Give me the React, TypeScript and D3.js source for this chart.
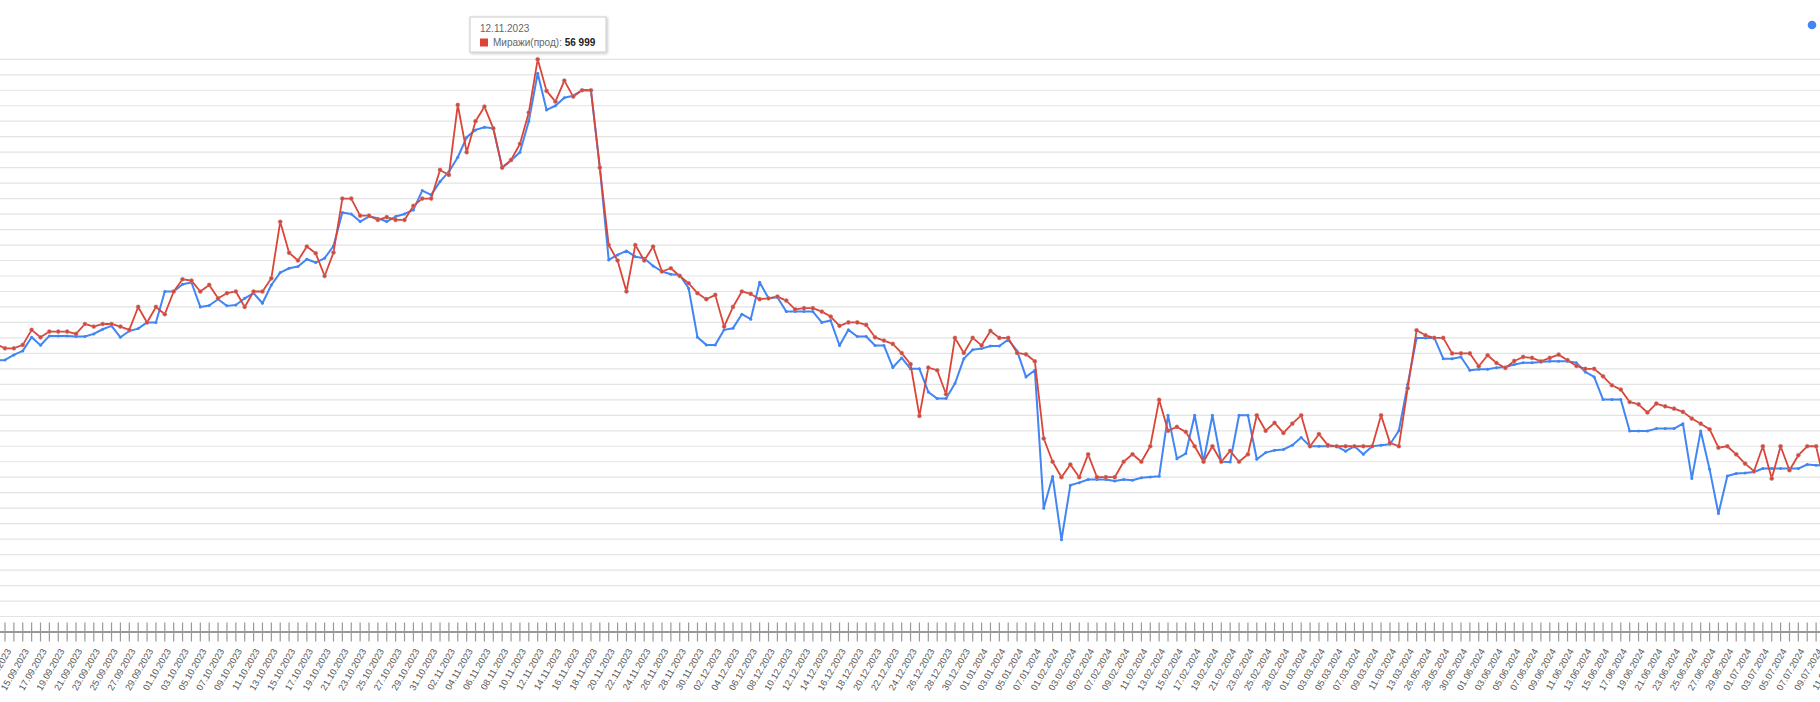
import React from "react";
import * as d3 from "d3";

// Category ranges (daily, with gaps in the data)
const dateRanges: [string, string][] = [
  ["12.09.2023", "08.01.2024"],
  ["01.02.2024", "25.02.2024"],
  ["27.02.2024", "13.03.2024"],
  ["25.05.2024", "11.07.2024"],
];

const redSeriesName = "Миражи(прод)";
const blueSeriesName = "Миражи(тест)";

// Миражи(прод) — red
const redValues: number[] = [
  38600,
  38330, 38330, 38550, 39520, 39040, 39410, 39410, 39410, 39260, 39900,
  39730, 39900, 39900, 39730, 39520, 41000, 40000, 41000, 40530, 42000,
  42790, 42700, 42000, 42420, 41560, 41890, 42000, 41000, 42000, 42000,
  42850, 46500, 44500, 44000, 44900, 44470, 43000, 44510, 48000, 48000,
  46900, 46900, 46620, 46800, 46620, 46620, 47530, 48000, 48000, 49850,
  49530, 54050, 51000, 53000, 53940, 52540, 50000, 50500, 51530, 53560,
  56999, 54960, 54270, 55620, 54590, 55000, 55000, 50000, 45000, 44000,
  42000, 45000, 44000, 44900, 43290, 43500, 43000, 42530, 41890, 41500,
  41780, 39730, 41000, 42000, 41840, 41500, 41560, 41670, 41410, 40850,
  40920, 40920, 40700, 40380, 39780, 40000, 40000, 39840, 39040, 38830,
  38610, 38020, 37300, 33960, 37080, 36910, 35360, 39000, 38030, 39000,
  38520, 39450, 39000, 39000, 38030, 37940, 37490, 32500, 31000, 30000,
  30820, 30000, 31480, 30000, 30000, 30000, 31000, 31480, 31000, 32000,
  35000, 33000, 33250, 32930, 32000, 31000, 32000, 31000, 31700, 31000,
  31480, 34000, 33000, 33510, 32860, 33460, 34000, 32000, 32780, 32070,
  32000, 32000, 32000, 32000, 32000, 34000, 32220, 32000, 35750, 39490,
  39170, 39000, 39000, 38000, 38000, 38000, 37170, 37880, 37380, 37060,
  37510, 37770, 37710, 37490, 37710, 37920, 37560, 37190, 37000, 37000,
  36520, 35940, 35660, 34860, 34710, 34180, 34760, 34580, 34430, 34220,
  33790, 33460, 33100, 31910, 32000, 31480, 30880, 30390, 32000, 29910,
  32000, 30450, 31420, 32000, 32000, 29480, 30000,
];

// second series — blue
const blueValues: number[] = [
  37540,
  37580, 37900, 38160, 39040, 38530, 39130, 39130, 39130, 39090, 39090,
  39260, 39560, 39780, 39040, 39450, 39600, 40000, 40000, 42000, 42000,
  42470, 42580, 41000, 41090, 41500, 41070, 41130, 41560, 41890, 41240,
  42420, 43220, 43500, 43610, 44080, 43870, 44150, 44940, 47100, 47010,
  46520, 46840, 46730, 46520, 46840, 47010, 47270, 48520, 48240, 49100,
  49740, 50670, 51960, 52440, 52610, 52540, 50000, 50460, 51000, 53000,
  56100, 53730, 54000, 54520, 54650, 55000, 55000, 50000, 44040, 44360,
  44620, 44250, 44150, 43650, 43290, 43110, 43070, 42210, 39040, 38550,
  38550, 39520, 39630, 40530, 40210, 42600, 41560, 41630, 40700, 40700,
  40700, 40700, 40000, 40120, 38510, 39520, 39090, 39090, 38510, 38510,
  37090, 37710, 37000, 37000, 35510, 35080, 35080, 36050, 37660, 38240,
  38310, 38480, 38480, 38890, 38160, 36480, 36910, 28000, 30040, 25960,
  29480, 29650, 29850, 29850, 29850, 29760, 29850, 29800, 29960, 30020,
  30060, 34000, 31200, 31530, 34000, 31000, 34000, 31000, 30980, 34000,
  34000, 31160, 31590, 31740, 31790, 32070, 32560, 32000, 32000, 32000,
  32000, 31680, 32000, 31480, 32000, 32070, 32130, 33000, 36000, 39000,
  39000, 39000, 37660, 37660, 37770, 36910, 36970, 36970, 37080, 37120,
  37280, 37400, 37400, 37450, 37490, 37490, 37490, 37400, 36800, 36480,
  35020, 35020, 35020, 32990, 32990, 32990, 33140, 33140, 33140, 33460,
  29910, 32990, 30520, 27650, 30080, 30240, 30280, 30340, 30560, 30560,
  30560, 30560, 30560, 30820, 30770, 30770, 30770,
];

const gridValues: number[] = d3.range(21000, 57001, 1000);
const tooltipDate = "12.11.2023";
const tooltipValue = "56 999";

function parseDate(s: string): Date {
  const [d, m, y] = s.split(".").map(Number);
  return new Date(Date.UTC(y, m - 1, d));
}
function fmtDate(dt: Date): string {
  const dd = String(dt.getUTCDate()).padStart(2, "0");
  const mm = String(dt.getUTCMonth() + 1).padStart(2, "0");
  return `${dd}.${mm}.${dt.getUTCFullYear()}`;
}
const categories: string[] = dateRanges.flatMap(([a, b]) => {
  const out: string[] = [];
  const end = parseDate(b).getTime();
  for (let t = parseDate(a).getTime(); t <= end; t += 86400000) out.push(fmtDate(new Date(t)));
  return out;
});

const W = 1820;
const H = 702;
const STEP = 8.878;
const X0 = 5 - STEP;
const BASE_Y = 632;
const TOP_Y = 59.3;

const FONT = "Arial, 'Liberation Sans', sans-serif";

export default function App() {
  const x = d3
    .scalePoint<string>()
    .domain(categories)
    .range([X0, X0 + STEP * (categories.length - 1)]);
  const y = d3.scaleLinear().domain([20000, 57000]).range([BASE_Y, TOP_Y]);

  const redData = categories.map((c, i) => ({ c, v: redValues[i] }));
  const blueData = categories.map((c, i) => ({ c, v: blueValues[i] }));
  const line = d3
    .line<{ c: string; v: number }>()
    .x((d) => x(d.c)!)
    .y((d) => y(d.v));

  return (
    <div style={{ position: "absolute", left: 0, top: 0 }}>
      <style>{`body{margin:0}`}</style>
      <svg width={W} height={H} style={{ display: "block", background: "#fff" }}>
        <defs>
          <filter id="tipShadow" x="-10%" y="-20%" width="120%" height="150%">
            <feDropShadow dx="1" dy="1" stdDeviation="1.5" floodColor="#000" floodOpacity="0.25" />
          </filter>
        </defs>

        {/* gridlines */}
        {gridValues.map((v) => (
          <line key={v} x1={0} x2={W} y1={y(v)} y2={y(v)} stroke="#e3e3e3" strokeWidth={1.2} />
        ))}

        {/* baseline */}
        <line x1={0} x2={W} y1={BASE_Y} y2={BASE_Y} stroke="#333" strokeWidth={1} />

        {/* ticks */}
        {categories.map((c) => (
          <line key={c} x1={x(c)} x2={x(c)} y1={622.5} y2={641.5} stroke="#999" strokeWidth={1.2} />
        ))}

        {/* labels (every second category) */}
        {categories.map((c, i) =>
          i % 2 === 1 ? (
            <text
              key={"l" + c}
              transform={`translate(${x(c)! + 6.5},${651}) rotate(-60)`}
              textAnchor="end"
              fontFamily={FONT}
              fontSize={9.3}
              fill="#555"
            >
              {c}
            </text>
          ) : null
        )}

        <g>
          <path d={line(blueData)!} fill="none" stroke="#4285f4" strokeWidth={2} strokeLinejoin="round" />
          {blueData.map((d) => (
            <circle key={"b" + d.c} cx={x(d.c)} cy={y(d.v)} r={1.5} fill="#4285f4" />
          ))}
          <path d={line(redData)!} fill="none" stroke="#db4437" strokeWidth={1.8} strokeLinejoin="round" />
          {redData.map((d) => (
            <circle
              key={"r" + d.c}
              cx={x(d.c)}
              cy={y(d.v)}
              r={2.1}
              fill="#db4437"
              stroke="rgba(170,170,170,0.45)"
              strokeWidth={1}
            />
          ))}
        </g>

        {/* legend marker (text is off-canvas) */}
        <circle cx={1812} cy={25} r={4.3} fill="#4285f4" />

        {/* tooltip */}
        <g>
          <rect x={470} y={17} width={136} height={35} fill="#fff" stroke="#ccc" strokeWidth={1} filter="url(#tipShadow)" />
          <text x={480} y={31.5} fontFamily={FONT} fontSize={10} fill="#666">
            {tooltipDate}
          </text>
          <rect x={480} y={38.5} width={8} height={8} fill="#db4437" />
          <text x={493} y={46} fontFamily={FONT} fontSize={10} fill="#666">
            {redSeriesName}:{" "}
            <tspan fontWeight="bold" fill="#222">
              {tooltipValue}
            </tspan>
          </text>
        </g>
      </svg>
    </div>
  );
}
